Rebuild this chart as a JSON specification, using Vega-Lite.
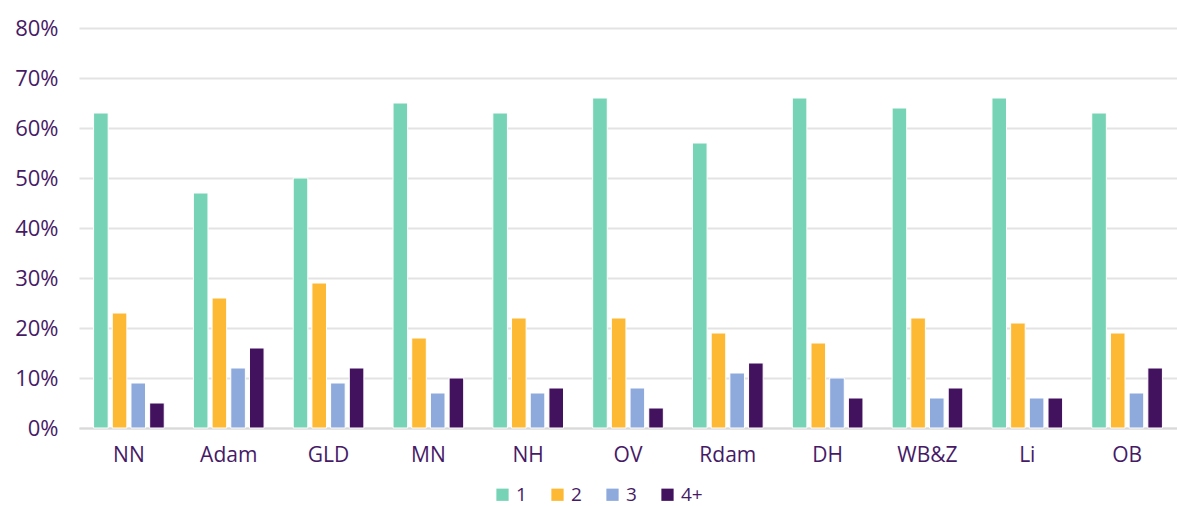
{
  "$schema": "https://vega.github.io/schema/vega-lite/v6.json",
  "width": 1098,
  "height": 400,
  "autosize": {"type": "none"},
  "padding": {"left": 79, "top": 28, "right": 0, "bottom": 78},
  "background": "white",
  "config": {
    "view": {"stroke": null},
    "font": "Open Sans"
  },
  "data": {
    "values": [
      {"region": "NN", "cat": "1", "v": 0.63}, {"region": "NN", "cat": "2", "v": 0.23}, {"region": "NN", "cat": "3", "v": 0.09}, {"region": "NN", "cat": "4+", "v": 0.05},
      {"region": "Adam", "cat": "1", "v": 0.47}, {"region": "Adam", "cat": "2", "v": 0.26}, {"region": "Adam", "cat": "3", "v": 0.12}, {"region": "Adam", "cat": "4+", "v": 0.16},
      {"region": "GLD", "cat": "1", "v": 0.50}, {"region": "GLD", "cat": "2", "v": 0.29}, {"region": "GLD", "cat": "3", "v": 0.09}, {"region": "GLD", "cat": "4+", "v": 0.12},
      {"region": "MN", "cat": "1", "v": 0.65}, {"region": "MN", "cat": "2", "v": 0.18}, {"region": "MN", "cat": "3", "v": 0.07}, {"region": "MN", "cat": "4+", "v": 0.10},
      {"region": "NH", "cat": "1", "v": 0.63}, {"region": "NH", "cat": "2", "v": 0.22}, {"region": "NH", "cat": "3", "v": 0.07}, {"region": "NH", "cat": "4+", "v": 0.08},
      {"region": "OV", "cat": "1", "v": 0.66}, {"region": "OV", "cat": "2", "v": 0.22}, {"region": "OV", "cat": "3", "v": 0.08}, {"region": "OV", "cat": "4+", "v": 0.04},
      {"region": "Rdam", "cat": "1", "v": 0.57}, {"region": "Rdam", "cat": "2", "v": 0.19}, {"region": "Rdam", "cat": "3", "v": 0.11}, {"region": "Rdam", "cat": "4+", "v": 0.13},
      {"region": "DH", "cat": "1", "v": 0.66}, {"region": "DH", "cat": "2", "v": 0.17}, {"region": "DH", "cat": "3", "v": 0.10}, {"region": "DH", "cat": "4+", "v": 0.06},
      {"region": "WB&Z", "cat": "1", "v": 0.64}, {"region": "WB&Z", "cat": "2", "v": 0.22}, {"region": "WB&Z", "cat": "3", "v": 0.06}, {"region": "WB&Z", "cat": "4+", "v": 0.08},
      {"region": "Li", "cat": "1", "v": 0.66}, {"region": "Li", "cat": "2", "v": 0.21}, {"region": "Li", "cat": "3", "v": 0.06}, {"region": "Li", "cat": "4+", "v": 0.06},
      {"region": "OB", "cat": "1", "v": 0.63}, {"region": "OB", "cat": "2", "v": 0.19}, {"region": "OB", "cat": "3", "v": 0.07}, {"region": "OB", "cat": "4+", "v": 0.12}
    ]
  },
  "mark": {"type": "bar", "stroke": "white", "strokeWidth": 1},
  "encoding": {
    "x": {
      "field": "region", "type": "nominal", "sort": null,
      "scale": {"paddingInner": 0, "paddingOuter": 0},
      "axis": {"title": null, "labelAngle": 0, "ticks": false, "labelPadding": 16, "domainColor": "#d9d9d9", "domainWidth": 2,
               "labelFontSize": 21, "labelColor": "#461A66", "labelFont": "Open Sans"}
    },
    "xOffset": {
      "field": "cat", "type": "nominal", "sort": ["1", "2", "3", "4+"],
      "scale": {"paddingInner": 0.22, "paddingOuter": 0.78}
    },
    "y": {
      "field": "v", "type": "quantitative",
      "scale": {"domain": [0, 0.8], "nice": false},
      "axis": {"title": null, "format": ".0%", "values": [0,0.1,0.2,0.3,0.4,0.5,0.6,0.7,0.8], "labelOverlap": false,
               "domain": false, "ticks": false, "labelPadding": 21, "gridColor": "#e3e3e3", "gridWidth": 2,
               "labelFontSize": 22, "labelColor": "#461A66", "labelFont": "Open Sans"}
    },
    "color": {
      "field": "cat", "type": "nominal",
      "scale": {"domain": ["1", "2", "3", "4+"], "range": ["#76D3B5", "#FDB933", "#8EA9DB", "#43125E"]},
      "legend": {
        "title": null, "orient": "none", "direction": "horizontal",
        "legendX": 414, "legendY": 457,
        "symbolType": "square", "symbolSize": 150, "symbolStrokeWidth": 0,
        "labelFontSize": 19, "labelColor": "#461A66", "labelFont": "Open Sans",
        "columnPadding": 21, "labelOffset": 4
      }
    }
  }
}
